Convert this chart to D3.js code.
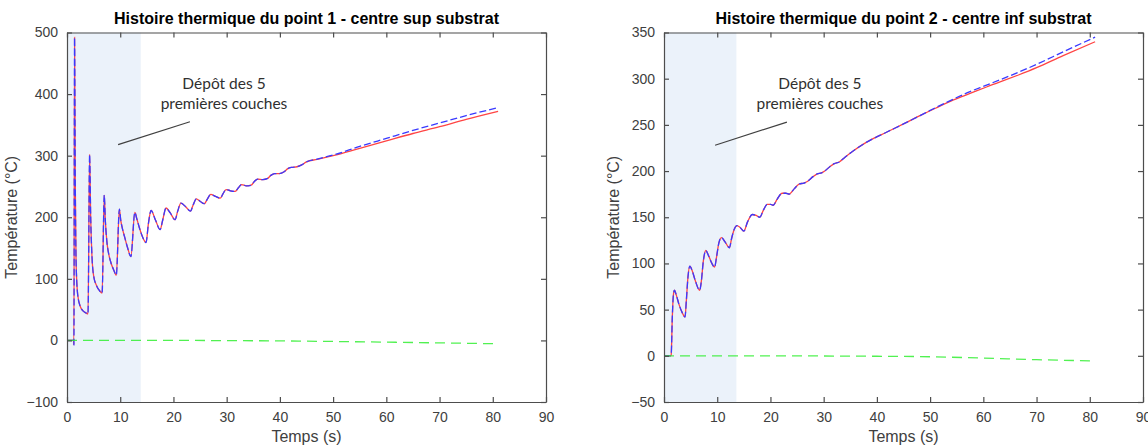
<!DOCTYPE html>
<html><head><meta charset="utf-8">
<script src="https://cdn.jsdelivr.net/npm/d3@7"></script>
<style>body{margin:0;background:#fff}</style>
</head><body>
<svg id="c" width="1148" height="448"></svg>
<script>
// ---------- DATA ----------
const xTicks = [0,10,20,30,40,50,60,70,80,90];
const yTicks1 = [-100,0,100,200,300,400,500];
const yTicks2 = [-50,0,50,100,150,200,250,300,350];
const title1 = "Histoire thermique du point 1 - centre sup substrat";
const title2 = "Histoire thermique du point 2 - centre inf substrat";
const annotLines = ["Dépôt des 5", "premières couches"];
const depositEnd1 = 13.85, depositEnd2 = 13.6;

// Point 1 (centre sup substrat)
const time1 = [0,1.2,1.3,1.42,1.55,1.7,2.0,2.5,3.0,3.5,3.95,4.25,4.45,4.7,5.0,5.6,6.1,6.6,7.0,7.2,7.5,7.8,8.3,8.8,9.27,9.84,10.1,10.4,10.8,11.4,12.0,12.75,13.1,13.6,14.2,14.85,15.3,15.8,16.6,17.5,18.0,18.6,19.4,20.3,20.8,21.4,22.3,23.2,23.7,24.3,25.0,25.8,26.4,27.0,27.9,28.8,29.3,29.9,30.7,31.6,32.2,32.8,33.7,34.6,35.2,35.8,36.8,37.7,38.3,39.0,39.9,40.8,41.5,42.2,43.2,44.1,45,47,50,55,60,65,70,75,81];
const red1  = [0,0,-7,492,260,130,75,55,48,45,43,302,200,135,105,88,81,77,236,195,160,142,125,114,106,213,195,182,169,150,136,208,198,183,168,159,190,211,196,180,196,215,207,196,210,223,217,210,220,230,226,222,230,237,234,231,238,245,243,242,248,253,251,252,258,262,261,263,268,271,271,274,279,281,282,285,290,294,300,312,324,336,347,359,372];
const blue1 = [0,0,-7,492,260,130,75,55,48,45,43,302,200,135,105,88,81,77,236,195,160,142,125,114,106,213,195,182,169,150,136,208,198,183,168,159,190,211,196,180,196,215,207,196,210,223,217,210,220,230,226,222,230,237,234,231,238,245,243,242,248,253,251,252,258,262,261,263,268,271,271,274,279,281,282,285,290,294.5,301,315,328,341,353,365,378];
const timeG = [0,20,30,40,50,60,70,81];
const green1 = [0,0,-0.3,-0.8,-1.7,-2.8,-4.0,-5.5];

// Point 2 (centre inf substrat)
const time2 = [0,1.2,1.35,1.55,1.75,1.95,2.3,2.8,3.4,3.95,4.2,4.5,4.85,5.3,5.9,6.7,7.0,7.4,7.85,8.4,9.0,9.5,9.9,10.3,10.8,11.5,12.3,12.7,13.2,13.7,14.3,15.0,15.7,16.6,17.3,18.0,18.7,19.4,20.0,20.5,21.3,22.2,22.9,23.5,24.5,25.4,26.3,27.0,28.0,28.8,29.6,30.2,31.2,32.0,33.0,33.8,35.6,38,41.8,45,48.1,51,54.4,57.5,60.6,66.6,70,75,81];
const red2  = [0,0,1,40,65,71,66,56,47,42,60,85,97,92,81,71,80,103,114,108,100,96,108,122,128,123,117,127,137,141,139,135,145,153,152,150,158,164,164,163,170,176,176,175,181,186,187,189,194,197,198,200,205,208,210,214,222,231,242,251,260,268,277,284,291,304,312,325,340];
const blue2 = [0,0,1,40,65,71,66,56,47,42,60,85,97,92,81,71,80,103,114,108,100,96,108,122,128,123,117,127,137,141,139,135,145,153,152,150,158,164,164,163,170,176,176,175,181,186,187,189,194,197,198,200,205,208,210,214,222,231,242,251,260,268.5,278,286,293,307,315.5,329,345];
const green2 = [0,0,-0.2,-0.5,-1.0,-2.5,-4.2,-5.5];

// ---------- DRAW ----------
const svg = d3.select("#c");
svg.append("rect").attr("width",1148).attr("height",448).attr("fill","#fff");

function panel(o){
  const g = svg.append("g");
  const x = d3.scaleLinear().domain([0,90]).range([o.left,o.right]);
  const y = d3.scaleLinear().domain(o.yDomain).range([o.bottom,o.top]);
  g.append("rect").attr("x",x(0)).attr("y",o.top)
    .attr("width",x(o.depEnd)-x(0)).attr("height",o.bottom-o.top)
    .attr("fill","#ebf2fa");
  g.append("line").attr("x1",x(o.ann[0])).attr("y1",y(o.ann[1]))
    .attr("x2",x(o.ann[2])).attr("y2",y(o.ann[3]))
    .attr("stroke","#404040").attr("stroke-width",1.2);
  annotLines.forEach((s,i)=>{
    g.append("text").attr("x",x(o.txt[0])).attr("y",y(o.txt[1])+i*20)
      .attr("text-anchor","middle").attr("font-family","Lato, 'Open Sans', sans-serif")
      .attr("font-size",15.5).attr("fill","#303030").text(s);
  });
  const line = d3.line().x(d=>x(d[0])).y(d=>y(d[1])).curve(d3.curveMonotoneX);
  const clip = "clip"+o.id;
  svg.append("clipPath").attr("id",clip).append("rect")
    .attr("x",o.left).attr("y",o.top).attr("width",o.right-o.left).attr("height",o.bottom-o.top);
  const cg = g.append("g").attr("clip-path",`url(#${clip})`);
  cg.append("path").attr("d",line(o.t.map((t,i)=>[t,o.red[i]])))
    .attr("fill","none").attr("stroke","#ff4444").attr("stroke-width",1.3);
  cg.append("path").attr("d",line(o.t.map((t,i)=>[t,o.blue[i]])))
    .attr("fill","none").attr("stroke","#3a3aff").attr("stroke-width",1.3)
    .attr("stroke-dasharray","7,3");
  cg.append("path").attr("d",line(timeG.map((t,i)=>[t,o.green[i]])))
    .attr("fill","none").attr("stroke","#33ee33").attr("stroke-opacity",0.85).attr("stroke-width",1.3)
    .attr("stroke-dasharray","10,6");
  const ax = "#4d4d4d";
  const fs = 14;
  const bottom = d3.axisBottom(x).tickValues(xTicks).tickSizeInner(-5).tickSizeOuter(0).tickPadding(10);
  const top = d3.axisTop(x).tickValues(xTicks).tickSizeInner(-5).tickSizeOuter(0).tickFormat("");
  const left = d3.axisLeft(y).tickValues(o.yTicks).tickSizeInner(-5).tickSizeOuter(0).tickPadding(9);
  const right = d3.axisRight(y).tickValues(o.yTicks).tickSizeInner(-5).tickSizeOuter(0).tickFormat("");
  [[bottom,`translate(0,${o.bottom})`],[top,`translate(0,${o.top})`],[left,`translate(${o.left},0)`],[right,`translate(${o.right},0)`]].forEach(([a,tr])=>{
    const ag = g.append("g").attr("transform",tr).call(a);
    ag.selectAll("path,line").attr("stroke",ax).attr("stroke-width",1.2);
    ag.selectAll("text").attr("fill","#404040").attr("font-size",fs)
      .attr("font-family","'Liberation Sans', Arial, sans-serif");
  });
  const cx = (o.left+o.right)/2;
  g.append("text").attr("x",cx).attr("y",24).attr("text-anchor","middle")
    .attr("font-family","'Liberation Sans', Arial, sans-serif").attr("font-weight","bold")
    .attr("font-size",16).attr("fill","#000").text(o.title);
  g.append("text").attr("x",cx).attr("y",442).attr("text-anchor","middle")
    .attr("font-family","'Liberation Sans', Arial, sans-serif")
    .attr("font-size",16).attr("fill","#404040").text("Temps (s)");
  g.append("text").attr("transform",`translate(${o.left-o.ylab},${(o.top+o.bottom)/2}) rotate(-90)`)
    .attr("text-anchor","middle").attr("font-family","'Liberation Sans', Arial, sans-serif")
    .attr("font-size",16).attr("fill","#404040").text("Température (°C)");
}

panel({id:1,left:67,right:546,top:32.5,bottom:402,yDomain:[-100,500],yTicks:yTicks1,ylab:50,
  depEnd:depositEnd1,ann:[9.6,318,23.1,355],txt:[29.5,409],
  t:time1,red:red1,blue:blue1,green:green1,title:title1});
panel({id:2,left:664,right:1143,top:32.5,bottom:402,yDomain:[-50,350],yTicks:yTicks2,ylab:45,
  depEnd:depositEnd2,ann:[9.6,228,23.1,253],txt:[29.3,288.5],
  t:time2,red:red2,blue:blue2,green:green2,title:title2});
</script>
</body></html>
